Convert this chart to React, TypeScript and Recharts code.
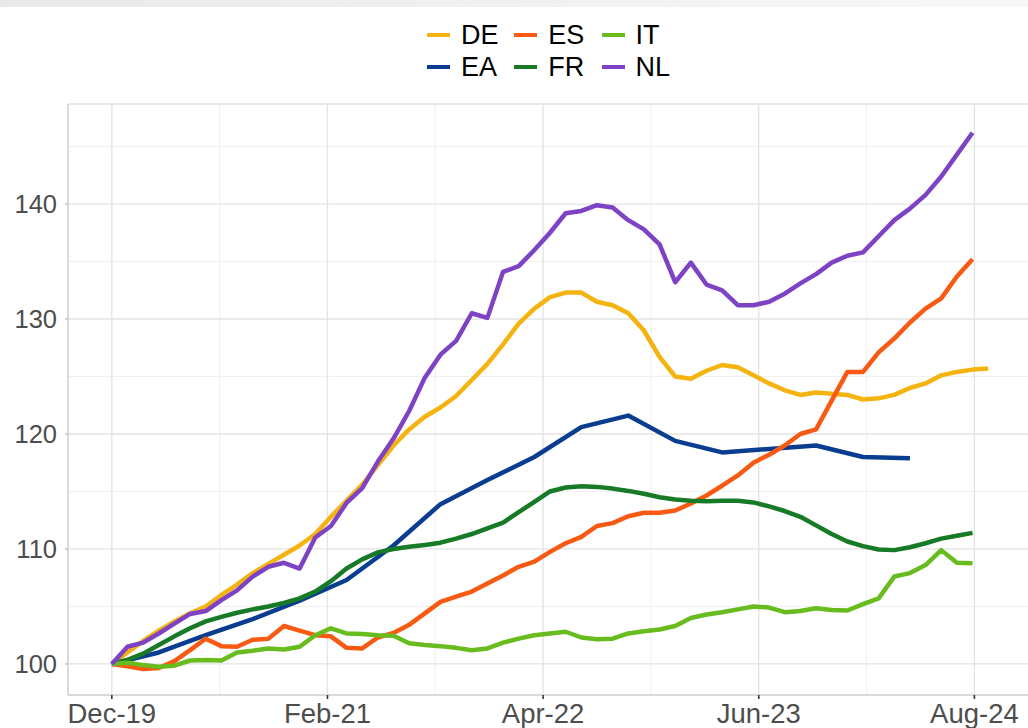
import React from 'react';
import { LineChart, Line, XAxis, YAxis, CartesianGrid, Legend } from 'recharts';

const FONT = '"Liberation Sans", Arial, Helvetica, sans-serif';

// x positions: month index from Dec-19 (0)
const tickLabels = ['Dec-19', 'Feb-21', 'Apr-22', 'Jun-23', 'Aug-24'];
const tickPositions = [0, 13.78, 27.56, 41.34, 55.12];
const minorXTicks = [6.89, 20.67, 34.45, 48.23];
const yTicks = [100, 110, 120, 130, 140];
const yMinorTicks = [105, 115, 125, 135, 145];
const xDomain = [-2.8, 58.8];
const yDomain = [97.3, 148.7];

const DE = [100, 101.0, 102.0, 102.9, 103.7, 104.4, 105.0, 106.0, 106.9, 107.9,
  108.7, 109.5, 110.3, 111.3, 112.8, 114.2, 115.6, 117.3, 119.0, 120.4,
  121.5, 122.3, 123.3, 124.7, 126.1, 127.8, 129.6, 130.9, 131.9, 132.3,
  132.3, 131.5, 131.2, 130.5, 129.0, 126.7, 125.0, 124.8, 125.5, 126.0,
  125.8, 125.1, 124.4, 123.8, 123.4, 123.6, 123.5, 123.4, 123.0, 123.1,
  123.4, 124.0, 124.4, 125.1, 125.4, 125.6, 125.7];

const NL = [100, 101.5, 101.85, 102.65, 103.5, 104.35, 104.6, 105.55, 106.4, 107.6,
  108.45, 108.8, 108.3, 111.0, 112.0, 114.0, 115.3, 117.6, 119.6, 122.0,
  124.9, 126.9, 128.1, 130.5, 130.1, 134.1, 134.6, 136.0, 137.5, 139.2,
  139.4, 139.9, 139.7, 138.6, 137.8, 136.5, 133.2, 134.9, 133.0, 132.5,
  131.2, 131.2, 131.5, 132.2, 133.1, 133.9, 134.9, 135.5, 135.8, 137.2,
  138.6, 139.6, 140.8, 142.4, 144.3, 146.2];

const ES = [100, 99.8, 99.55, 99.65, 100.25, 101.2, 102.2, 101.55, 101.5, 102.1,
  102.2, 103.3, 102.9, 102.5, 102.4, 101.4, 101.35, 102.3, 102.7, 103.4,
  104.4, 105.4, 105.85, 106.3, 107.0, 107.7, 108.45, 108.9, 109.75, 110.5,
  111.05, 112.0, 112.25, 112.85, 113.15, 113.15, 113.35, 113.95, 114.65, 115.5,
  116.4, 117.5, 118.2, 119.0, 120.0, 120.4, 122.9, 125.4, 125.4, 127.1,
  128.3, 129.7, 130.9, 131.8, 133.7, 135.2];

const FR = [100, 100.35, 100.9, 101.65, 102.4, 103.1, 103.7, 104.1, 104.45, 104.75,
  105.0, 105.3, 105.7, 106.3, 107.2, 108.3, 109.1, 109.7, 110.0, 110.2,
  110.35, 110.55, 110.9, 111.3, 111.8, 112.3, 113.2, 114.1, 115.0, 115.35,
  115.45, 115.4, 115.25, 115.05, 114.8, 114.5, 114.3, 114.2, 114.15, 114.2,
  114.2, 114.05, 113.7, 113.3, 112.8, 112.05, 111.3, 110.65, 110.25, 109.95,
  109.9, 110.15, 110.5, 110.9, 111.15, 111.4];

const IT = [100, 100.1, 99.9, 99.75, 99.85, 100.3, 100.35, 100.3, 101.0, 101.15,
  101.35, 101.25, 101.5, 102.5, 103.1, 102.65, 102.6, 102.5, 102.45, 101.8,
  101.65, 101.55, 101.4, 101.2, 101.35, 101.85, 102.2, 102.5, 102.65, 102.8,
  102.3, 102.15, 102.2, 102.65, 102.85, 103.0, 103.3, 104.0, 104.3, 104.5,
  104.75, 105.0, 104.9, 104.5, 104.6, 104.85, 104.7, 104.65, 105.2, 105.7,
  107.6, 107.9, 108.6, 109.9, 108.8, 108.75];

// Euro area: quarterly observations
const EA_MONTHS = [0, 3, 6, 9, 12, 15, 18, 21, 24, 27, 30, 33, 36, 39, 42, 45, 48, 51];
const EA = [100, 101.0, 102.5, 103.9, 105.5, 107.3, 110.3, 113.9, 116.0, 118.0,
  120.6, 121.6, 119.4, 118.4, 118.7, 119.0, 118.0, 117.9];

const SERIES = [
  { key: 'DE', color: '#F5B30F' },
  { key: 'EA', color: '#0A3D8F' },
  { key: 'ES', color: '#F85A14' },
  { key: 'FR', color: '#177A26' },
  { key: 'IT', color: '#68BC1E' },
  { key: 'NL', color: '#7E42C4' },
];

const rows = DE.map((_, i) => {
  const eaPos = EA_MONTHS.indexOf(i);
  return {
    m: i,
    DE: DE[i],
    EA: eaPos >= 0 ? EA[eaPos] : null,
    ES: i < ES.length ? ES[i] : null,
    FR: i < FR.length ? FR[i] : null,
    IT: i < IT.length ? IT[i] : null,
    NL: i < NL.length ? NL[i] : null,
  };
});

const renderLegend = () => (
  <div
    style={{
      display: 'grid',
      gridTemplateColumns: 'repeat(3, 87.3px)',
      gridTemplateRows: '32px 32px',
      gridAutoFlow: 'column',
      fontFamily: FONT,
    }}
  >
    {SERIES.map((s) => (
      <div key={s.key} style={{ display: 'flex', alignItems: 'center', height: 32 }}>
        <span style={{ display: 'inline-block', width: 23, height: 4, background: s.color, marginRight: 11 }} />
        <span style={{ fontSize: 27, color: '#000', lineHeight: '32px' }}>{s.key}</span>
      </div>
    ))}
  </div>
);

export default function App() {
  return (
    <div style={{ position: 'absolute', left: 0, top: 0, width: 1028, height: 728, overflow: 'hidden', background: '#fff' }}>
      <div
        style={{
          position: 'absolute', left: 0, top: 0, width: 1028, height: 7,
          background: 'linear-gradient(to right, #e9e9e9, #f1f1f1 50%, #f8f8f8)',
        }}
      />
      <LineChart width={1040} height={728} data={rows} margin={{ top: 104, right: 8, bottom: 3, left: 8 }}>
        <XAxis xAxisId="minor" dataKey="m" type="number" domain={xDomain} allowDataOverflow ticks={minorXTicks} hide />
        <YAxis yAxisId="minor" type="number" domain={yDomain} allowDataOverflow ticks={yMinorTicks} hide />
        <CartesianGrid xAxisId="minor" yAxisId="minor" stroke="#f0f0f0" strokeWidth={1} />
        <CartesianGrid stroke="#e3e3e3" strokeWidth={1.3} />
        <XAxis
          xAxisId="top"
          orientation="top"
          dataKey="m"
          type="number"
          domain={xDomain}
          allowDataOverflow
          height={0}
          tick={false}
          tickLine={false}
          axisLine={{ stroke: '#d6d6d6', strokeWidth: 1.6 }}
        />
        <XAxis
          dataKey="m"
          type="number"
          domain={xDomain}
          allowDataOverflow
          ticks={tickPositions}
          interval={0}
          tickFormatter={(v: number) => tickLabels[tickPositions.indexOf(v)]}
          height={30}
          tickSize={4}
          tickMargin={4}
          tickLine={{ stroke: '#333333', strokeWidth: 1.6 }}
          axisLine={{ stroke: '#d6d6d6', strokeWidth: 1.6 }}
          tick={{ fill: '#4d4d4d', fontSize: 27.5, fontFamily: FONT }}
        />
        <YAxis
          type="number"
          domain={yDomain}
          allowDataOverflow
          ticks={yTicks}
          interval={0}
          width={60}
          tickSize={3}
          tickMargin={8}
          tickLine={{ stroke: '#bdbdbd', strokeWidth: 1.3 }}
          axisLine={{ stroke: '#d6d6d6', strokeWidth: 1.6 }}
          tick={{ fill: '#4d4d4d', fontSize: 25.5, fontFamily: FONT }}
        />
        <Legend
          verticalAlign="middle"
          align="center"
          layout="horizontal"
          wrapperStyle={{ top: 19, left: 427, width: 280 }}
          content={renderLegend}
        />
        {SERIES.map((s) => (
          <Line
            key={s.key}
            dataKey={s.key}
            type="linear"
            stroke={s.color}
            strokeWidth={4.5}
            strokeLinejoin="round"
            dot={false}
            activeDot={false}
            connectNulls
            isAnimationActive={false}
          />
        ))}
      </LineChart>
    </div>
  );
}
